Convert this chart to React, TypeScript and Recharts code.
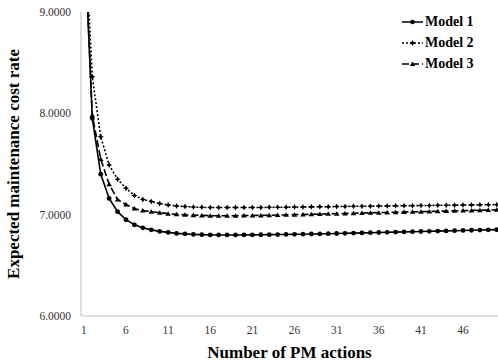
import React from 'react';
import { LineChart, Line, XAxis, YAxis } from 'recharts';

const pmActions = [
  1, 2, 3, 4, 5, 6, 7, 8, 9, 10, 11, 12, 13, 14, 15, 16, 17, 18, 19, 20, 21, 22, 23, 24, 25,
  26, 27, 28, 29, 30, 31, 32, 33, 34, 35, 36, 37, 38, 39, 40, 41, 42, 43, 44, 45, 46, 47, 48, 49, 50,
];

const model1 = [
  9.88, 7.95, 7.4, 7.16, 7.03, 6.95, 6.9, 6.87, 6.85, 6.835, 6.825, 6.815, 6.81, 6.805, 6.803,
  6.8, 6.8, 6.8, 6.8, 6.8, 6.801, 6.802, 6.803, 6.804, 6.805, 6.806, 6.807, 6.809, 6.81, 6.812,
  6.814, 6.816, 6.818, 6.82, 6.822, 6.824, 6.826, 6.828, 6.83, 6.832, 6.834, 6.836, 6.838, 6.84,
  6.842, 6.844, 6.846, 6.848, 6.85, 6.852,
];

const model2 = [
  10.0, 8.36, 7.77, 7.49, 7.35, 7.26, 7.19, 7.15, 7.13, 7.11, 7.095, 7.085, 7.08, 7.075, 7.072,
  7.07, 7.07, 7.07, 7.07, 7.07, 7.07, 7.071, 7.072, 7.073, 7.074, 7.075, 7.076, 7.077, 7.078, 7.079,
  7.08, 7.081, 7.082, 7.083, 7.084, 7.085, 7.086, 7.087, 7.088, 7.089, 7.09, 7.091, 7.092, 7.093,
  7.094, 7.095, 7.096, 7.097, 7.098, 7.099,
];

const model3 = [
  9.9, 7.98, 7.55, 7.3, 7.15, 7.1, 7.06, 7.04, 7.03, 7.02, 7.01, 7.003, 6.998, 6.995, 6.993,
  6.99, 6.99, 6.99, 6.99, 6.991, 6.992, 6.993, 6.994, 6.996, 6.998, 7.0, 7.002, 7.004, 7.006, 7.008,
  7.01, 7.012, 7.014, 7.016, 7.018, 7.02, 7.022, 7.024, 7.026, 7.028, 7.03, 7.032, 7.034, 7.036,
  7.038, 7.04, 7.042, 7.044, 7.046, 7.048,
];

const xTicks = [1, 6, 11, 16, 21, 26, 31, 36, 41, 46];
const yTicks = [6, 7, 8, 9];

const data = pmActions.map((n, i) => ({ n, m1: model1[i], m2: model2[i], m3: model3[i] }));

const FONT = '"Liberation Serif", "Times New Roman", serif';

// marker shapes, roughly like the excel ones
const circleDot = (props: any) => {
  const { cx, cy, index } = props;
  if (cx == null || cy == null) return <g key={`c-${index}`} />;
  return <circle key={`c-${index}`} cx={cx} cy={cy} r={2.4} fill="#000" />;
};

const starDot = (props: any) => {
  const { cx, cy, index } = props;
  if (cx == null || cy == null) return <g key={`s-${index}`} />;
  const d = `M${cx},${cy - 3} L${cx + 1},${cy - 1} L${cx + 3},${cy} L${cx + 1},${cy + 1} L${cx},${cy + 3} L${cx - 1},${cy + 1} L${cx - 3},${cy} L${cx - 1},${cy - 1} Z`;
  return <path key={`s-${index}`} d={d} fill="#000" />;
};

const triDot = (props: any) => {
  const { cx, cy, index } = props;
  if (cx == null || cy == null) return <g key={`t-${index}`} />;
  const d = `M${cx},${cy - 2.5} L${cx + 2.8},${cy + 2} L${cx - 2.8},${cy + 2} Z`;
  return <path key={`t-${index}`} d={d} fill="#000" />;
};

const series = [
  { key: 'm1', name: 'Model 1', dash: undefined, dot: circleDot, icon: 'circle' },
  { key: 'm2', name: 'Model 2', dash: '2 2', dot: starDot, icon: 'star' },
  { key: 'm3', name: 'Model 3', dash: '7 3', dot: triDot, icon: 'tri' },
];

const tickStyle = { fontFamily: FONT, fontSize: 11.5, fill: '#333' };

const XTick = (props: any) => {
  const { x, y, payload } = props;
  return (
    <text x={x} y={y} dy="0.71em" textAnchor="middle" style={tickStyle}>
      {payload.value}
    </text>
  );
};

const YTick = (props: any) => {
  const { x, y, payload } = props;
  return (
    <text x={x} y={y} dy="0.355em" textAnchor="end" style={tickStyle}>
      {Number(payload.value).toFixed(4)}
    </text>
  );
};

const LegendIcon = ({ dash, icon }: { dash?: string; icon: string }) => (
  <svg width={21} height={10} style={{ display: 'block' }}>
    <line x1={0} y1={5} x2={21} y2={5} stroke="#000" strokeWidth={1.5} strokeDasharray={dash} />
    {icon === 'circle' && <circle cx={10.5} cy={5} r={2.3} fill="#000" />}
    {icon === 'star' && (
      <path d="M10.5,2 L11.5,4 L13.5,5 L11.5,6 L10.5,8 L9.5,6 L7.5,5 L9.5,4 Z" fill="#000" />
    )}
    {icon === 'tri' && <path d="M10.5,2.5 L13.3,7 L7.7,7 Z" fill="#000" />}
  </svg>
);

export default function App() {
  return (
    <div
      style={{
        position: 'absolute',
        left: 0,
        top: 0,
        width: 498,
        height: 364,
        overflow: 'hidden',
        background: '#fff',
        fontFamily: FONT,
      }}
    >
      <LineChart width={498} height={364} data={data} margin={{ top: 12, right: 0, bottom: 0, left: 0 }}>
        <XAxis
          dataKey="n"
          type="number"
          domain={[0.66, 50.15]}
          allowDataOverflow
          ticks={xTicks}
          interval={0}
          tickLine={false}
          tickMargin={4}
          height={48}
          axisLine={{ stroke: '#bfbfbf' }}
          tick={<XTick />}
          label={{
            value: 'Number of PM actions',
            position: 'insideBottom',
            offset: 6,
            style: { fontSize: 17, fontWeight: 'bold', fill: '#000', fontFamily: FONT },
          }}
        />
        <YAxis
          type="number"
          domain={[6, 9]}
          allowDataOverflow
          ticks={yTicks}
          width={81}
          tickLine={false}
          tickMargin={4}
          axisLine={{ stroke: '#bfbfbf' }}
          tick={<YTick />}
          label={{
            value: 'Expected maintenance cost rate',
            angle: -90,
            position: 'insideLeft',
            offset: 13,
            style: { textAnchor: 'middle', fontSize: 17, fontWeight: 'bold', fill: '#000', fontFamily: FONT },
          }}
        />
        {series.map((s) => (
          <Line
            key={s.key}
            type="linear"
            dataKey={s.key}
            name={s.name}
            stroke="#000"
            strokeWidth={1.6}
            strokeDasharray={s.dash}
            dot={s.dot}
            activeDot={false}
            isAnimationActive={false}
          />
        ))}
      </LineChart>
      <div style={{ position: 'absolute', left: 402, top: 11 }}>
        {series.map((s) => (
          <div key={s.key} style={{ display: 'flex', alignItems: 'center', height: 21 }}>
            <LegendIcon dash={s.dash} icon={s.icon} />
            <span style={{ marginLeft: 2, fontSize: 14, fontWeight: 'bold', color: '#000' }}>{s.name}</span>
          </div>
        ))}
      </div>
    </div>
  );
}
